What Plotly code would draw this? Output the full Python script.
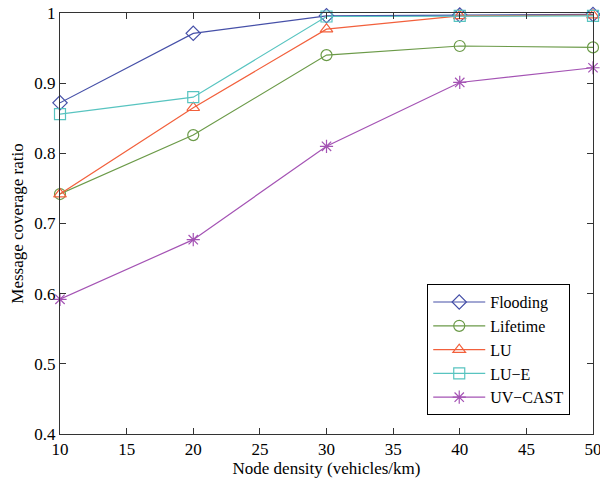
import plotly.graph_objects as go

x = [10, 20, 30, 40, 50]
flooding = [0.872, 0.971, 0.996, 0.997, 0.998]
lifetime = [0.742, 0.826, 0.940, 0.953, 0.951]
lu = [0.742, 0.865, 0.977, 0.996, 0.997]
lu_e = [0.856, 0.880, 0.995, 0.996, 0.996]
uv_cast = [0.592, 0.677, 0.810, 0.901, 0.922]

x_ticks = [10, 15, 20, 25, 30, 35, 40, 45, 50]
y_ticks = [0.4, 0.5, 0.6, 0.7, 0.8, 0.9, 1.0]
y_tick_labels = ["0.4", "0.5", "0.6", "0.7", "0.8", "0.9", "1"]

series = [
    ("Flooding", flooding, "#4650a8", "diamond-open"),
    ("Lifetime", lifetime, "#6b9a48", "circle-open"),
    ("LU", lu, "#f2603c", "triangle-up-open"),
    ("LU\u2212E", lu_e, "#58c4c0", "square-open"),
    ("UV\u2212CAST", uv_cast, "#a453b4", "asterisk-open"),
]

fig = go.Figure()
for name, ys, color, sym in series:
    fig.add_trace(go.Scatter(
        x=x, y=ys, name=name, mode="lines+markers",
        line=dict(color=color, width=1.2),
        marker=dict(symbol=sym, size=11, color=color, line=dict(color=color, width=1.2)),
        cliponaxis=False,
    ))

font = "Times New Roman"
fig.update_layout(
    width=600, height=479,
    margin=dict(l=60, r=7, t=13, b=45),
    paper_bgcolor="white", plot_bgcolor="white",
    font=dict(family=font, size=17, color="black"),
    showlegend=True,
    legend=dict(
        x=0.689, y=0.356, xanchor="left", yanchor="top",
        bordercolor="black", borderwidth=1, bgcolor="white",
        font=dict(family=font, size=16), tracegroupgap=0,
        itemwidth=52,
    ),
    xaxis=dict(
        range=[10, 50], tickmode="array", tickvals=x_ticks,
        ticks="inside", ticklen=6, tickcolor="#333", showline=True, linecolor="#333",
        linewidth=1, mirror="ticks", showgrid=False, zeroline=False,
        title=dict(text="Node density (vehicles/km)", font=dict(family=font, size=17), standoff=2),
        tickfont=dict(family=font, size=17),
        automargin=False, ticklabeloverflow="allow",
    ),
    yaxis=dict(
        range=[0.4, 1.0], tickmode="array", tickvals=y_ticks,
        ticktext=y_tick_labels,
        ticks="inside", ticklen=6, tickcolor="#333", showline=True, linecolor="#333",
        linewidth=1, mirror="ticks", showgrid=False, zeroline=False,
        title=dict(text="Message coverage ratio", font=dict(family=font, size=17), standoff=6),
        tickfont=dict(family=font, size=17),
        automargin=False, ticklabeloverflow="allow",
    ),
)

fig.write_html(
    "out.html",
    config={"displayModeBar": False},
    post_script="document.body.style.margin='0';document.body.style.overflow='hidden';",
)
